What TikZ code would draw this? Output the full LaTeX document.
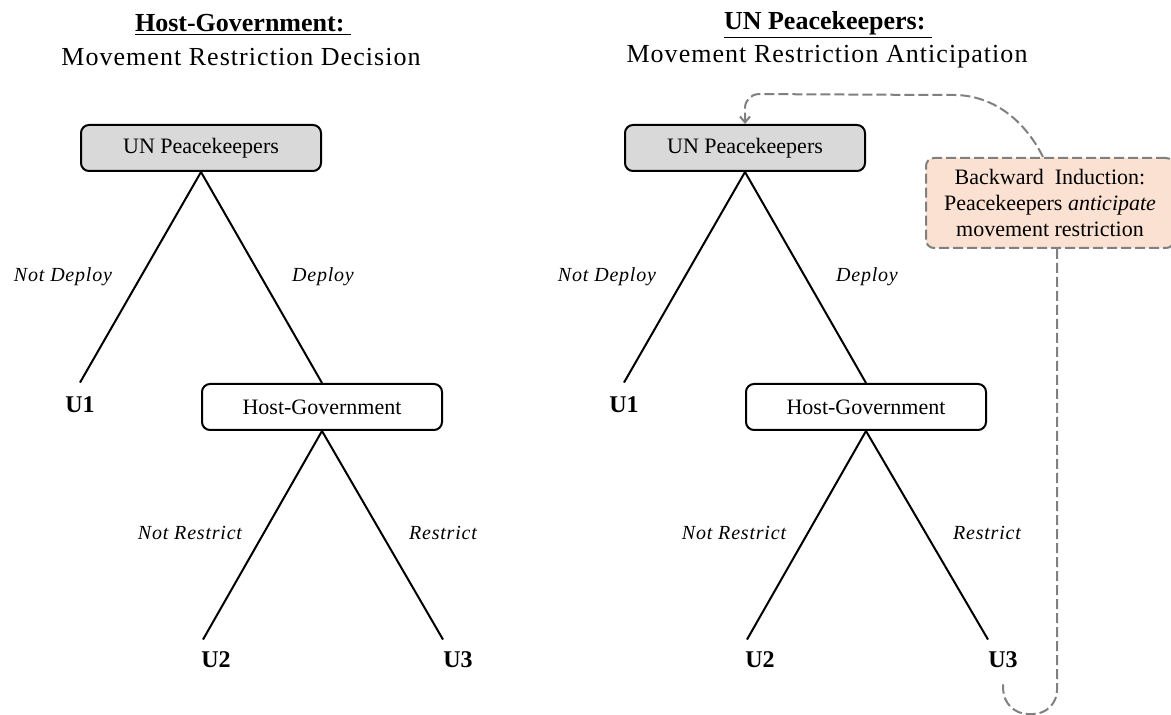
\documentclass[tikz,border=0pt]{standalone}
\usepackage{fontspec}
\setmainfont{Liberation Serif}
\newfontfamily\spacedfont[LetterSpace=4]{Liberation Serif}
\usetikzlibrary{
	arrows.meta,
	calc,
	positioning
}
\definecolor{NodeGray}{RGB}{217,217,217}
\definecolor{Peach}{RGB}{251,225,210}
\definecolor{DashGray}{RGB}{128,128,128}

\tikzset{
	player/.style={draw, line width=1pt, rounded corners=4pt, minimum width=120pt, minimum height=23pt, inner sep=0pt, font=\fontsize{11}{13}\selectfont},
	payoff/.style={inner sep=0pt, font=\fontsize{12}{14}\selectfont\bfseries},
	move/.style={inner sep=0pt, font=\fontsize{10}{12}\selectfont\spacedfont\itshape},
	branch/.style={line width=1pt},
	induct/.style={draw=DashGray, line width=1pt, dash pattern=on 5pt off 2pt},
	titlehead/.style={inner sep=0pt, font=\fontsize{13}{15}\selectfont\bfseries},
	titlesub/.style={inner sep=0pt, font=\fontsize{13}{15}\selectfont\spacedfont}
}

\begin{document}
\begin{tikzpicture}[x=0.5pt, y=-0.5pt]
		\useasboundingbox (0,0) rectangle (1171,715);
		\clip (0,0) rectangle (1171,715);
		% titles
		\node[titlehead] (head1) at (243,25) {\underline{Host-Government:~}};
		\node[titlesub] (sub1) at (241,57) {Movement Restriction Decision};
		\node[titlehead] (head2) at (828,25) {\underline{UN Peacekeepers:~}};
		\node[titlesub] (sub2) at (827,57) {Movement Restriction Anticipation};
		% left tree
		\node[player, fill=NodeGray] (pk1) at (201,148) {UN Peacekeepers};
		\node[player] (hg1) at (322,407) {Host-Government};
		\node[payoff] (u1l) at (80,405) {U1};
		\node[payoff] (u2l) at (216,660) {U2};
		\node[payoff] (u3l) at (458,660) {U3};
		\draw[branch] (pk1.south) -- ([yshift=7pt]u1l.north);
		\draw[branch] (pk1.south) -- (hg1.north);
		\draw[branch] (hg1.south) -- ([xshift=-6.5pt, yshift=6pt]u2l.north);
		\draw[branch] (hg1.south) -- ([xshift=-7.5pt, yshift=6pt]u3l.north);
		\node[move] (nd1) at (63,277) {Not Deploy};
		\node[move] (d1) at (323,277) {Deploy};
		\node[move] (nr1) at (190,533) {Not Restrict};
		\node[move] (r1) at (443,533) {Restrict};
		% right tree
		\node[player, fill=NodeGray] (pk2) at (745,148) {UN Peacekeepers};
		\node[player] (hg2) at (866,407) {Host-Government};
		\node[payoff] (u1r) at (624,405) {U1};
		\node[payoff] (u2r) at (760,660) {U2};
		\node[payoff] (u3r) at (1003,660) {U3};
		\draw[branch] (pk2.south) -- ([yshift=7pt]u1r.north);
		\draw[branch] (pk2.south) -- (hg2.north);
		\draw[branch] (hg2.south) -- ([xshift=-6.5pt, yshift=6pt]u2r.north);
		\draw[branch] (hg2.south) -- ([xshift=-7.5pt, yshift=6pt]u3r.north);
		\node[move] (nd2) at (607,277) {Not Deploy};
		\node[move] (d2) at (867,277) {Deploy};
		\node[move] (nr2) at (734,533) {Not Restrict};
		\node[move] (r2) at (987,533) {Restrict};
		% backward induction
		\node[induct, fill=Peach, rounded corners=4pt, minimum width=124pt, minimum height=45pt, align=center, inner sep=0pt, font=\fontsize{11}{13}\selectfont] (bi) at (1050,203) {Backward\ \ Induction:\\Peacekeepers \textit{anticipate}\\movement restriction};
		\coordinate (bend) at (940,95);
		\coordinate (loopR) at (1057,714);
		\coordinate (loopL) at (1004,714);
		\draw[induct, rounded corners=7pt, -{Straight Barb[length=3pt, width=5pt]}] ([xshift=-3.5pt]bi.north) .. controls (1022,115) and (988,95) .. (bend) -- ($(pk2.north)+(0,-30)$) -- (pk2.north);
		\draw[induct, rounded corners=12pt] ([xshift=3.5pt]bi.south) -- (loopR) -- (loopL) -- ([yshift=-8pt]u3r.south);
	\end{tikzpicture}
\end{document}
